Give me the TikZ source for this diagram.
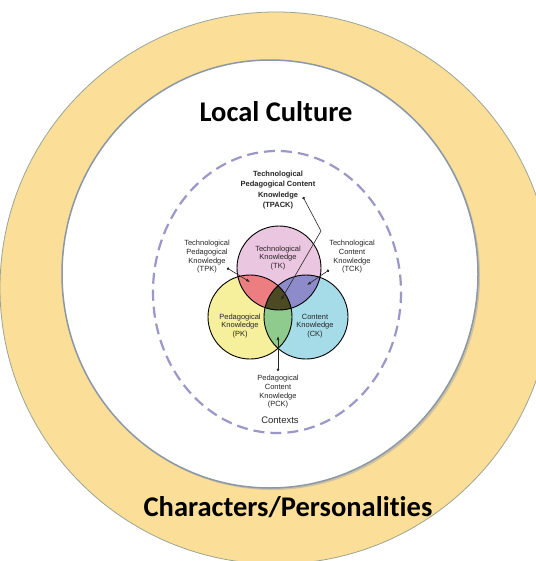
\documentclass[tikz,border=0pt]{standalone}
\usepackage{fontspec}
\setmainfont{Liberation Sans}
\newfontfamily\calibri[Ligatures=NoCommon]{Carlito}
\usetikzlibrary{arrows.meta}

\definecolor{ringyellow}{HTML}{FBDE97}
\definecolor{ringedge}{HTML}{9AA596}
\definecolor{whiteedge}{HTML}{8A97A6}
\definecolor{ctxline}{HTML}{9C97C9}
\definecolor{tkpink}{HTML}{EBC6E0}
\definecolor{pkyellow}{HTML}{F6F09C}
\definecolor{ckcyan}{HTML}{A6DCE8}
\definecolor{tpkred}{HTML}{EC7D80}
\definecolor{tckblue}{HTML}{8E8BCB}
\definecolor{pckgreen}{HTML}{90CB8E}
\definecolor{tpackdark}{HTML}{4C4A22}

\tikzset{
  lbl/.style={align=center,inner sep=0pt,text=black!85,
    font=\fontsize{7.5}{8.7}\selectfont},
  boldlbl/.style={lbl,font=\bfseries\fontsize{7.5}{10.3}\selectfont},
  bigtitle/.style={inner sep=0pt,font=\calibri\bfseries\fontsize{28.5}{30}\selectfont},
  lead/.style={line width=0.6pt,black!85,
    {Circle[length=2.6pt]}-{Latex[length=4pt,width=3pt]}},
  venn/.style={draw=black,line width=0.9pt},
}

\begin{document}
\begin{tikzpicture}[x=1pt,y=-1pt]
            \useasboundingbox (0,0) rectangle (535,561);

            % rings
            \fill[ringyellow,draw=ringedge,line width=0.8pt] (276,288) circle (276);
            \fill[black!35,opacity=0.5] (272,276) ellipse [x radius=208,y radius=214];
            \fill[white,draw=whiteedge,line width=1.5pt] (270,274) ellipse [x radius=208,y radius=214];
            \draw[ctxline,line width=2.2pt,dash pattern=on 11pt off 6pt]
                (277,292) ellipse [x radius=124,y radius=141];

            \node[bigtitle] (culture) at (276,112) {Local Culture};
            \node[bigtitle] (persons) at (288,507) {Characters/Personalities};
            \node[lbl,font=\fontsize{9.5}{11}\selectfont] (contexts) at (280,420) {Contexts};

            % venn
            \coordinate (tk) at (279,268);
            \coordinate (pk) at (250,317);
            \coordinate (ck) at (306,317);

            \fill[tkpink] (tk) circle (42);
            \fill[pkyellow] (pk) circle (42);
            \fill[ckcyan] (ck) circle (42);
            \begin{scope}
              \clip (pk) circle (42);
              \fill[pckgreen] (ck) circle (42);
            \end{scope}
            \begin{scope}
              \clip (tk) circle (42);
              \fill[tpkred] (pk) circle (42);
              \fill[tckblue] (ck) circle (42);
              \clip (pk) circle (42);
              \fill[tpackdark] (ck) circle (42);
            \end{scope}
            \draw[venn] (tk) circle (42);
            \draw[venn] (pk) circle (42);
            \draw[venn] (ck) circle (42);

            \node[lbl] (tklbl) at (278,258) {Technological\\Knowledge\\(TK)};
            \node[lbl] (pklbl) at (240,326) {Pedagogical\\Knowledge\\(PK)};
            \node[lbl] (cklbl) at (315,326) {Content\\Knowledge\\(CK)};

            \node[boldlbl] (tpacklbl) at (278,190) {Technological\\Pedagogical Content\\Knowledge\\(TPACK)};
            \node[lbl] (tpklbl) at (207,257) {Technological\\Pedagogical\\Knowledge\\(TPK)};
            \node[lbl] (tcklbl) at (352,257) {Technological\\Content\\Knowledge\\(TCK)};
            \node[lbl] (pcklbl) at (278,392) {Pedagogical\\Content\\Knowledge\\(PCK)};

            % leaders
            \coordinate (tpackdot) at (303,197);
            \coordinate (tpackbend) at (321,231);
            \coordinate (tpackend) at (281,300);
            \coordinate (tpkdot) at (227,268);
            \coordinate (tpkend) at (250,282);
            \coordinate (tckdot) at (329,270);
            \coordinate (tckend) at (307,285);
            \coordinate (pckdot) at (278,371);
            \coordinate (pckend) at (278,336);

            \draw[lead] (tpackdot) -- (tpackbend) -- (tpackend);
            \draw[lead] (tpkdot) -- (tpkend);
            \draw[lead] (tckdot) -- (tckend);
            \draw[lead] (pckdot) -- (pckend);
\end{tikzpicture}
\end{document}
